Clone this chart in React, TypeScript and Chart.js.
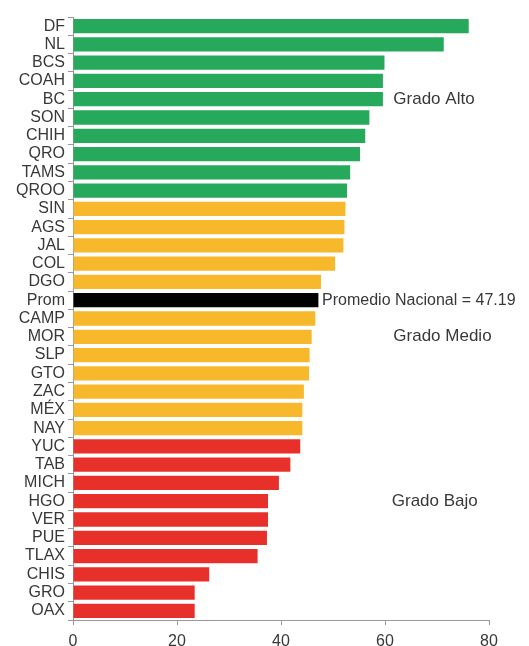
import React, { useEffect, useRef } from "react";
import { Chart, registerables } from "chart.js";

Chart.register(...registerables);

const categories = [
  "DF", "NL", "BCS", "COAH", "BC", "SON", "CHIH", "QRO", "TAMS", "QROO",
  "SIN", "AGS", "JAL", "COL", "DGO", "Prom", "CAMP", "MOR", "SLP", "GTO",
  "ZAC", "MÉX", "NAY", "YUC", "TAB", "MICH", "HGO", "VER", "PUE", "TLAX",
  "CHIS", "GRO", "OAX",
];

const values = [
  76.1, 71.3, 59.9, 59.6, 59.6, 57.0, 56.2, 55.2, 53.3, 52.7,
  52.4, 52.2, 52.0, 50.4, 47.7, 47.19, 46.6, 45.9, 45.5, 45.4,
  44.4, 44.1, 44.1, 43.7, 41.8, 39.6, 37.5, 37.5, 37.3, 35.5,
  26.2, 23.4, 23.4,
];

const groups = [
  "alto", "alto", "alto", "alto", "alto", "alto", "alto", "alto", "alto", "alto",
  "medio", "medio", "medio", "medio", "medio", "prom", "medio", "medio", "medio", "medio",
  "medio", "medio", "medio", "bajo", "bajo", "bajo", "bajo", "bajo", "bajo", "bajo",
  "bajo", "bajo", "bajo",
];

const groupColors: Record<string, string> = {
  alto: "#27a95b",
  medio: "#f7b82c",
  bajo: "#e8302a",
  prom: "#000000",
};

const xTicks = [0, 20, 40, 60, 80];

const annotationTexts = ["Grado Alto", "Promedio Nacional = 47.19", "Grado Medio", "Grado Bajo"];
const annotationX = [61.6, 47.9, 61.6, 61.3];
const annotationCategory = ["BC", "Prom", "MOR", "HGO"];
const annotationSizes = [17, 16, 17, 17];

const FONT = "'Liberation Sans', Arial, sans-serif";

const annotationPlugin = {
  id: "groupLabels",
  afterDatasetsDraw(chart: any) {
    const { ctx, scales } = chart;
    ctx.save();
    ctx.fillStyle = "#383838";
    ctx.textAlign = "left";
    ctx.textBaseline = "middle";
    annotationTexts.forEach((t, i) => {
      ctx.font = `${annotationSizes[i]}px ${FONT}`;
      const x = scales.x.getPixelForValue(annotationX[i]);
      const y = scales.y.getPixelForValue(categories.indexOf(annotationCategory[i]));
      ctx.fillText(t, x, y);
    });
    ctx.restore();
  },
};

export default function App() {
  const ref = useRef<HTMLCanvasElement>(null);
  useEffect(() => {
    if (!ref.current) return;
    const chart = new Chart(ref.current, {
      type: "bar",
      data: {
        labels: categories,
        datasets: [
          {
            data: values,
            backgroundColor: groups.map((g) => groupColors[g]),
            borderWidth: 0,
            barPercentage: 0.78,
            categoryPercentage: 1,
          },
        ],
      },
      options: {
        indexAxis: "y",
        animation: false,
        responsive: false,
        maintainAspectRatio: false,
        layout: { padding: { top: 17, right: 40, left: 0, bottom: 0 } },
        plugins: {
          legend: { display: false },
          tooltip: { enabled: false },
          title: { display: false },
        },
        scales: {
          x: {
            type: "linear",
            min: 0,
            max: 80,
            afterBuildTicks: (scale: any) => {
              scale.ticks = xTicks.map((v) => ({ value: v }));
            },
            afterFit: (scale: any) => {
              scale.height = 26;
            },
            ticks: {
              color: "#383838",
              font: { family: FONT, size: 16 },
              padding: 7,
              maxRotation: 0,
            },
            grid: { drawOnChartArea: false, drawTicks: true, tickLength: 5, color: "#999999" },
            border: { display: true, color: "#999999", width: 1 },
          },
          y: {
            type: "category",
            afterFit: (scale: any) => {
              scale.width = 73;
            },
            ticks: {
              color: "#383838",
              font: { family: FONT, size: 16 },
              padding: 3,
              autoSkip: false,
            },
            grid: { drawOnChartArea: false, drawTicks: true, tickLength: 5, color: "#999999", offset: true },
            border: { display: true, color: "#999999", width: 1 },
          },
        },
      },
      plugins: [annotationPlugin],
    } as any);
    return () => chart.destroy();
  }, []);
  return (
    <div style={{ position: "fixed", left: 0, top: 0, width: 529, height: 646, background: "#ffffff" }}>
      <canvas ref={ref} width={529} height={646} style={{ width: 529, height: 646, display: "block" }} />
    </div>
  );
}
